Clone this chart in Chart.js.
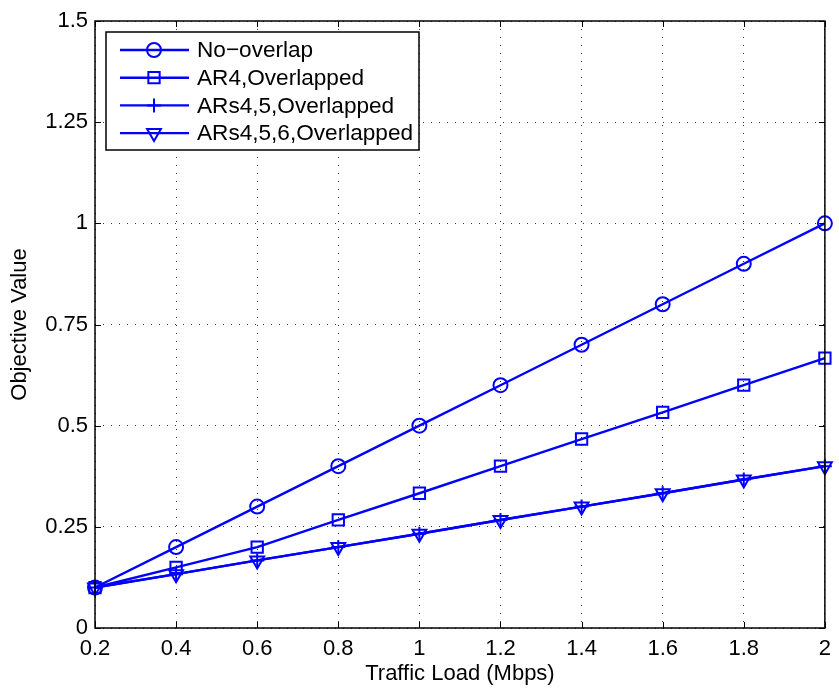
<!DOCTYPE html>
<html>
<head>
<meta charset="utf-8">
<script src="https://cdn.jsdelivr.net/npm/chart.js@4.4.0/dist/chart.umd.min.js"></script>
<style>
html, body { margin: 0; padding: 0; background: #fff; }
</style>
</head>
<body>
<canvas id="loadChart" width="839" height="688"></canvas>
<script>
// values
const loads = [0.2, 0.4, 0.6, 0.8, 1.0, 1.2, 1.4, 1.6, 1.8, 2.0];
const noOverlap = [0.1, 0.2, 0.3, 0.4, 0.5, 0.6, 0.7, 0.8, 0.9, 1.0];
const ar4 = [0.1, 0.15, 0.2, 0.267, 0.333, 0.4, 0.467, 0.533, 0.6, 0.667];
const ars45 = [0.1, 0.133, 0.167, 0.2, 0.233, 0.267, 0.3, 0.333, 0.367, 0.4];
const ars456 = [0.1, 0.133, 0.167, 0.2, 0.233, 0.267, 0.3, 0.333, 0.367, 0.4];

const seriesNames = ['No\u2212overlap', 'AR4,Overlapped', 'ARs4,5,Overlapped', 'ARs4,5,6,Overlapped'];

const xTicks = [0.2, 0.4, 0.6, 0.8, 1, 1.2, 1.4, 1.6, 1.8, 2];
const xTickLabels = ['0.2', '0.4', '0.6', '0.8', '1', '1.2', '1.4', '1.6', '1.8', '2'];
const yTicks = [0, 0.25, 0.5, 0.75, 1, 1.25, 1.5];
const yTickLabels = ['0', '0.25', '0.5', '0.75', '1', '1.25', '1.5'];

const FONT = 'Liberation Sans, Arial, Helvetica, sans-serif';
const BLUE = '#0000ff';

function toPoints(ys) {
    return loads.map((x, i) => ({ x: x, y: ys[i] }));
}

const markers = [
    { pointStyle: 'circle', radius: 7, rotation: 0 },
    { pointStyle: 'rect', radius: 8, rotation: 0 },
    { pointStyle: 'cross', radius: 7, rotation: 0 },
    { pointStyle: 'triangle', radius: 8, rotation: 180 }
];

const allSeries = [noOverlap, ar4, ars45, ars456];

const datasets = allSeries.map((ys, i) => ({
    label: seriesNames[i],
    data: toPoints(ys),
    borderColor: BLUE,
    borderWidth: 2.4,
    backgroundColor: 'rgba(0,0,0,0)',
    pointStyle: markers[i].pointStyle,
    pointRadius: markers[i].radius,
    pointRotation: markers[i].rotation,
    pointBorderColor: BLUE,
    pointBackgroundColor: 'rgba(0,0,0,0)',
    pointBorderWidth: 2,
    tension: 0,
    clip: false,
    order: 3 - i
}));

// frame, inward ticks and a MATLAB style legend
const matlabFrame = {
    id: 'matlabFrame',
    afterDraw(chart) {
        const ctx = chart.ctx;
        const area = chart.chartArea;
        const xs = chart.scales.x;
        const ys = chart.scales.y;
        const tl = 6;
        ctx.save();
        ctx.strokeStyle = '#000';
        ctx.lineWidth = 1.5;
        ctx.strokeRect(area.left, area.top, area.right - area.left, area.bottom - area.top);
        ctx.lineWidth = 1;
        ctx.beginPath();
        xTicks.forEach(v => {
            const px = Math.round(xs.getPixelForValue(v)) + 0.5;
            ctx.moveTo(px, area.bottom);
            ctx.lineTo(px, area.bottom - tl);
            ctx.moveTo(px, area.top);
            ctx.lineTo(px, area.top + tl);
        });
        yTicks.forEach(v => {
            const py = Math.round(ys.getPixelForValue(v)) + 0.5;
            ctx.moveTo(area.left, py);
            ctx.lineTo(area.left + tl, py);
            ctx.moveTo(area.right, py);
            ctx.lineTo(area.right - tl, py);
        });
        ctx.stroke();

        // legend box
        const box = { left: 106, top: 32, width: 313, height: 118 };
        ctx.fillStyle = '#fff';
        ctx.fillRect(box.left, box.top, box.width, box.height);
        ctx.lineWidth = 1.5;
        ctx.strokeStyle = '#000';
        ctx.strokeRect(box.left, box.top, box.width, box.height);

        ctx.font = '22.6px ' + FONT;
        ctx.textBaseline = 'middle';
        ctx.textAlign = 'left';
        chart.data.datasets.forEach((ds, i) => {
            const cy = 50 + i * 27.7;
            ctx.strokeStyle = BLUE;
            ctx.lineWidth = 2.4;
            ctx.beginPath();
            ctx.moveTo(120, cy);
            ctx.lineTo(189, cy);
            ctx.stroke();
            ctx.fillStyle = 'rgba(0,0,0,0)';
            ctx.lineWidth = 2;
            Chart.helpers.drawPoint(ctx, {
                pointStyle: ds.pointStyle,
                radius: ds.pointRadius,
                rotation: ds.pointRotation,
                borderWidth: 2
            }, 154, cy);
            ctx.fillStyle = '#000';
            ctx.fillText(ds.label, 197, cy + 1);
        });
        ctx.restore();
    }
};

const ctx = document.getElementById('loadChart').getContext('2d');
const loadChart = new Chart(ctx, {
    type: 'line',
    data: { datasets: datasets },
    options: {
        responsive: false,
        devicePixelRatio: 1,
        animation: false,
        layout: {
            padding: { top: 21, right: 11, left: 0, bottom: 0 }
        },
        scales: {
            x: {
                type: 'linear',
                min: 0.2,
                max: 2,
                afterBuildTicks: scale => {
                    scale.ticks = xTicks.map(v => ({ value: v }));
                },
                afterFit: scale => { scale.height = 60; },
                ticks: {
                    color: '#000',
                    font: { family: FONT, size: 22 },
                    padding: 8,
                    maxRotation: 0,
                    autoSkip: false,
                    callback: (value) => xTickLabels[xTicks.indexOf(value)]
                },
                grid: {
                    color: '#333',
                    lineWidth: 1,
                    drawTicks: false
                },
                border: { display: false, dash: [1, 7] },
                title: {
                    display: true,
                    text: 'Traffic Load (Mbps)',
                    color: '#000',
                    font: { family: FONT, size: 22 },
                    padding: { top: 0, bottom: 1 }
                }
            },
            y: {
                type: 'linear',
                min: 0,
                max: 1.5,
                afterBuildTicks: scale => {
                    scale.ticks = yTicks.map(v => ({ value: v }));
                },
                afterFit: scale => { scale.width = 95; },
                ticks: {
                    color: '#000',
                    font: { family: FONT, size: 22 },
                    padding: 7,
                    autoSkip: false,
                    callback: (value) => yTickLabels[yTicks.indexOf(value)]
                },
                grid: {
                    color: '#333',
                    lineWidth: 1,
                    drawTicks: false
                },
                border: { display: false, dash: [1, 7] },
                title: {
                    display: true,
                    text: 'Objective Value',
                    color: '#000',
                    font: { family: FONT, size: 22 },
                    padding: { top: 7, bottom: 0 }
                }
            }
        },
        plugins: {
            legend: { display: false },
            tooltip: { enabled: false }
        }
    },
    plugins: [matlabFrame]
});
</script>
</body>
</html>
